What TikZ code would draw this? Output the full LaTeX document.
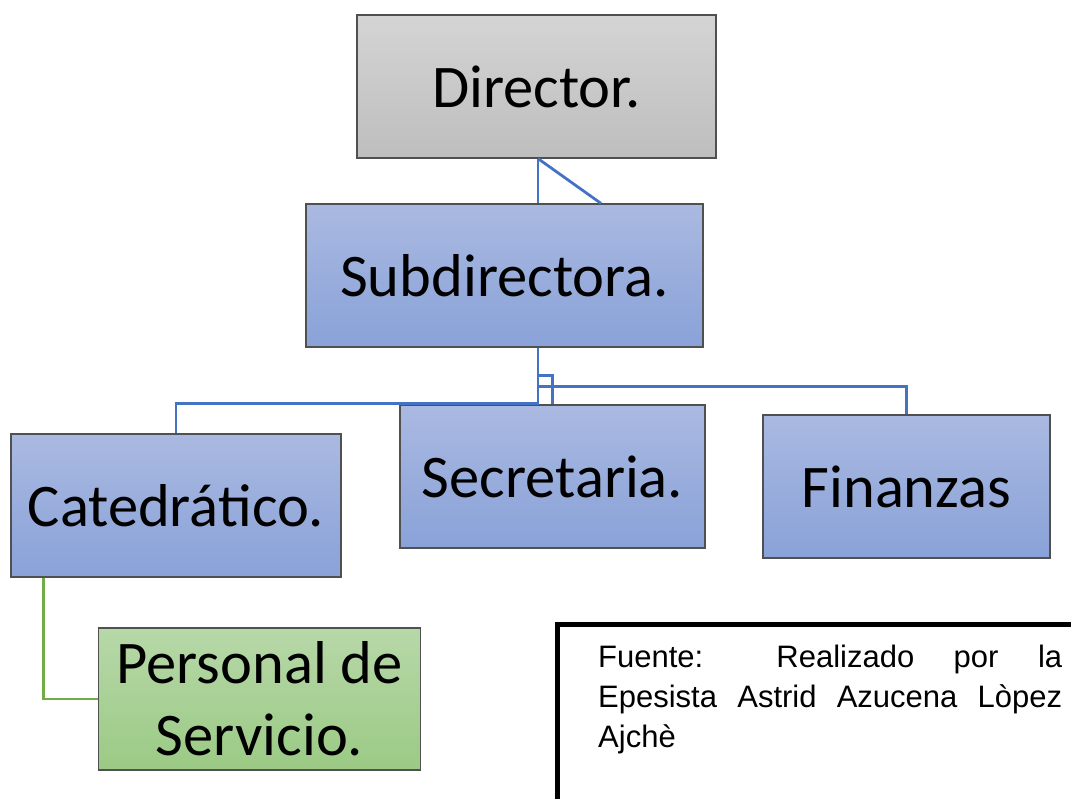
\documentclass[tikz,border=0pt]{standalone}
\usepackage{fontspec}
\setmainfont{Carlito}
\newfontfamily\notefont{Liberation Sans}
\usetikzlibrary{calc,positioning}

\definecolor{boxline}{RGB}{80,80,80}
\definecolor{linkblue}{RGB}{68,114,196}
\definecolor{linkgreen}{RGB}{112,173,71}
\tikzset{
  orgbox/.style={draw=boxline, line width=1.2pt, inner sep=0pt, align=center,
    minimum height=143pt, font=\fontsize{60.5}{72}\selectfont},
  greybox/.style={orgbox, top color={rgb,255:red,212;green,212;blue,212},
    bottom color={rgb,255:red,190;green,190;blue,190}},
  bluebox/.style={orgbox, top color={rgb,255:red,170;green,185;blue,225},
    bottom color={rgb,255:red,137;green,162;blue,216}},
  greenbox/.style={orgbox, top color={rgb,255:red,183;green,216;blue,168},
    bottom color={rgb,255:red,155;green,202;blue,133}},
  bluelink/.style={draw=linkblue, line width=2.8pt},
  greenlink/.style={draw=linkgreen, line width=2.8pt},
}

\begin{document}
\begin{tikzpicture}[x=1pt, y=-1pt]
\useasboundingbox (0,0) rectangle (1071,798);

% boxes of the chart
\node[greybox, minimum width=359pt] (director) at (536.5,86.5) {Director.};
\node[bluebox, minimum width=397pt] (subdir) at (504.5,275.5) {Subdirectora.};
\node[bluebox, minimum width=330pt] (cated) at (176,505.5) {Catedrático.};
\node[bluebox, minimum width=305pt] (secre) at (552.5,476.5) {Secretaria.};
\node[bluebox, minimum width=287pt] (finan) at (906.5,486.5) {Finanzas};
\node[greenbox, minimum width=322pt, minimum height=142pt] (personal) at (259.5,699)
  {Personal de\\Servicio.};

% links
\coordinate (top) at ($(director.south)+(1.5,0)$);
\coordinate (hub) at (top |- subdir.south);
\draw[bluelink] (top) -- (top |- subdir.north);
\draw[bluelink] (top) -- ($(subdir.north)+(96.5,0)$);
\draw[bluelink] (hub) -- ++(0,56) -| (cated.north);
\draw[bluelink] (hub) ++(0,28) -| (secre.north);
\draw[bluelink] (hub) ++(0,39) -| (finan.north);
\draw[greenlink] ($(cated.south west)+(33,0)$) |- (personal.west);

% source note
\draw[line width=5pt] (557,624) rectangle (1100,830);
\node[anchor=north west, inner sep=0pt, text width=464pt, align=justify,
  font=\notefont\fontsize{31}{40}\selectfont] (note) at (598,645)
  {Fuente: Realizado por la\linebreak Epesista Astrid Azucena Lòpez\linebreak Ajchè};
\end{tikzpicture}
\end{document}
